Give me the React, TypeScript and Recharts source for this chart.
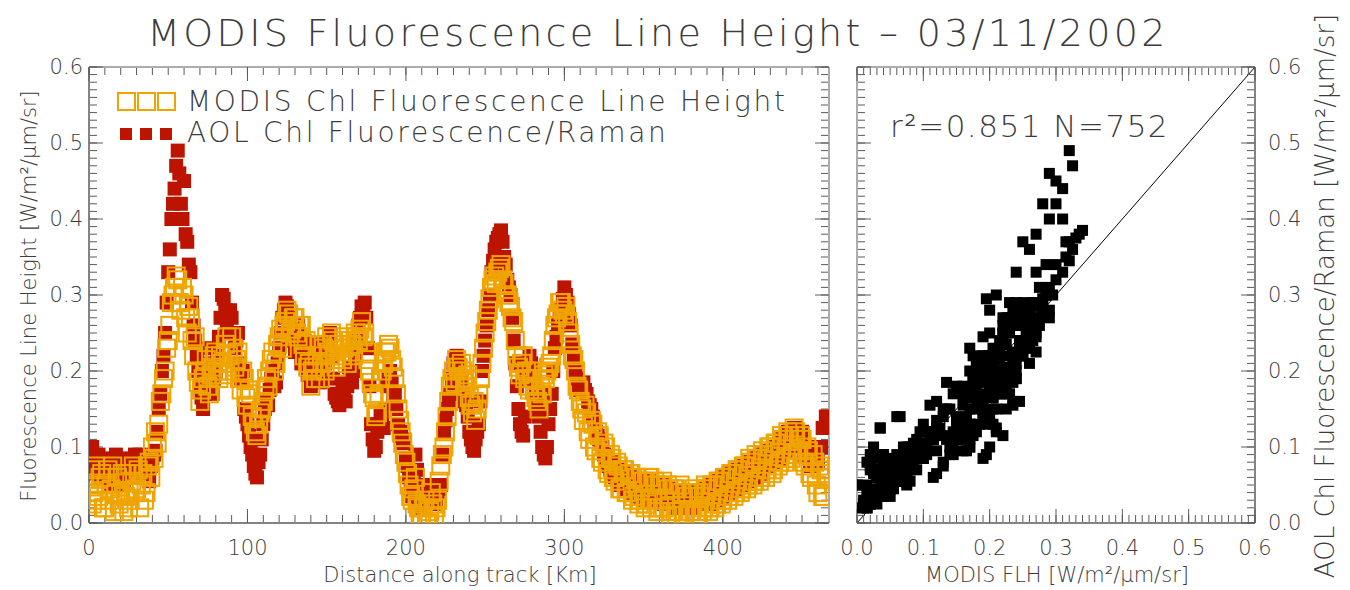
import React from 'react';
import { ScatterChart, Scatter, XAxis, YAxis, ReferenceLine, Legend } from 'recharts';

// ---------------- data ----------------
const distanceKm = [
  0, 1, 2, 3, 4, 5, 6, 7, 8, 9, 10, 11, 12, 13, 14, 15, 16, 17, 18, 19,
  20, 21, 22, 23, 24, 25, 26, 27, 28, 29, 30, 31, 32, 33, 34, 35, 36, 37, 38, 39,
  40, 41, 42, 43, 44, 45, 46, 47, 48, 49, 50, 51, 52, 53, 54, 55, 56, 57, 58, 59,
  60, 61, 62, 63, 64, 65, 66, 67, 68, 69, 70, 71, 72, 73, 74, 75, 76, 77, 78, 79,
  80, 81, 82, 83, 84, 85, 86, 87, 88, 89, 90, 91, 92, 93, 94, 95, 96, 97, 98, 99,
  100, 101, 102, 103, 104, 105, 106, 107, 108, 109, 110, 111, 112, 113, 114, 115, 116, 117, 118, 119,
  120, 121, 122, 123, 124, 125, 126, 127, 128, 129, 130, 131, 132, 133, 134, 135, 136, 137, 138, 139,
  140, 141, 142, 143, 144, 145, 146, 147, 148, 149, 150, 151, 152, 153, 154, 155, 156, 157, 158, 159,
  160, 161, 162, 163, 164, 165, 166, 167, 168, 169, 170, 171, 172, 173, 174, 175, 176, 177, 178, 179,
  180, 181, 182, 183, 184, 185, 186, 187, 188, 189, 190, 191, 192, 193, 194, 195, 196, 197, 198, 199,
  200, 201, 202, 203, 204, 205, 206, 207, 208, 209, 210, 211, 212, 213, 214, 215, 216, 217, 218, 219,
  220, 221, 222, 223, 224, 225, 226, 227, 228, 229, 230, 231, 232, 233, 234, 235, 236, 237, 238, 239,
  240, 241, 242, 243, 244, 245, 246, 247, 248, 249, 250, 251, 252, 253, 254, 255, 256, 257, 258, 259,
  260, 261, 262, 263, 264, 265, 266, 267, 268, 269, 270, 271, 272, 273, 274, 275, 276, 277, 278, 279,
  280, 281, 282, 283, 284, 285, 286, 287, 288, 289, 290, 291, 292, 293, 294, 295, 296, 297, 298, 299,
  300, 301, 302, 303, 304, 305, 306, 307, 308, 309, 310, 311, 312, 313, 314, 315, 316, 317, 318, 319,
  320, 321, 322, 323, 324, 325, 326, 327, 328, 329, 330, 331, 332, 333, 334, 335, 336, 337, 338, 339,
  340, 341, 342, 343, 344, 345, 346, 347, 348, 349, 350, 351, 352, 353, 354, 355, 356, 357, 358, 359,
  360, 361, 362, 363, 364, 365, 366, 367, 368, 369, 370, 371, 372, 373, 374, 375, 376, 377, 378, 379,
  380, 381, 382, 383, 384, 385, 386, 387, 388, 389, 390, 391, 392, 393, 394, 395, 396, 397, 398, 399,
  400, 401, 402, 403, 404, 405, 406, 407, 408, 409, 410, 411, 412, 413, 414, 415, 416, 417, 418, 419,
  420, 421, 422, 423, 424, 425, 426, 427, 428, 429, 430, 431, 432, 433, 434, 435, 436, 437, 438, 439,
  440, 441, 442, 443, 444, 445, 446, 447, 448, 449, 450, 451, 452, 453, 454, 455, 456, 457, 458, 459,
  460, 461, 462, 463, 464, 465, 466,
];

const modisFLH = [
  0.05, 0.07, 0.025, 0.04, 0.075, 0.03, 0.035, 0.06, 0.065, 0.02,
  0.02, 0.05, 0.07, 0.03, 0.045, 0.075, 0.015, 0.04, 0.06, 0.025,
  0.04, 0.065, 0.015, 0.035, 0.065, 0.02, 0.03, 0.055, 0.075, 0.04,
  0.045, 0.07, 0.02, 0.05, 0.065, 0.03, 0.04, 0.075, 0.08, 0.06,
  0.1, 0.085, 0.12, 0.105, 0.13, 0.16, 0.17, 0.19, 0.2, 0.23,
  0.24, 0.26, 0.29, 0.3, 0.31, 0.325, 0.32, 0.29, 0.28, 0.31,
  0.3, 0.27, 0.25, 0.285, 0.27, 0.24, 0.22, 0.245, 0.2, 0.185,
  0.16, 0.175, 0.19, 0.2, 0.215, 0.18, 0.17, 0.195, 0.205, 0.22,
  0.225, 0.2, 0.19, 0.22, 0.21, 0.195, 0.235, 0.245, 0.22, 0.2,
  0.245, 0.23, 0.205, 0.215, 0.225, 0.19, 0.175, 0.2, 0.19, 0.165,
  0.155, 0.175, 0.17, 0.14, 0.13, 0.12, 0.115, 0.13, 0.145, 0.15,
  0.16, 0.175, 0.19, 0.18, 0.2, 0.215, 0.225, 0.2, 0.21, 0.235,
  0.245, 0.255, 0.23, 0.26, 0.265, 0.28, 0.275, 0.25, 0.255, 0.27,
  0.27, 0.25, 0.245, 0.26, 0.26, 0.235, 0.22, 0.24, 0.205, 0.21,
  0.18, 0.2, 0.205, 0.19, 0.22, 0.235, 0.19, 0.21, 0.23, 0.2,
  0.245, 0.225, 0.22, 0.25, 0.24, 0.215, 0.205, 0.235, 0.235, 0.22,
  0.215, 0.23, 0.245, 0.21, 0.225, 0.24, 0.235, 0.22, 0.25, 0.245,
  0.24, 0.255, 0.265, 0.245, 0.25, 0.225, 0.215, 0.2, 0.185, 0.17,
  0.165, 0.14, 0.145, 0.17, 0.19, 0.2, 0.21, 0.225, 0.225, 0.235,
  0.23, 0.215, 0.205, 0.19, 0.17, 0.15, 0.135, 0.12, 0.105, 0.09,
  0.08, 0.065, 0.05, 0.035, 0.03, 0.045, 0.06, 0.025, 0.02, 0.01,
  0.005, 0.02, 0.03, 0.0, 0.0, 0.015, 0.04, 0.025, 0.01, 0.02,
  0.03, 0.055, 0.075, 0.09, 0.1, 0.12, 0.14, 0.16, 0.18, 0.19,
  0.2, 0.185, 0.215, 0.205, 0.19, 0.21, 0.2, 0.185, 0.18, 0.195,
  0.165, 0.155, 0.145, 0.16, 0.135, 0.15, 0.17, 0.19, 0.21, 0.23,
  0.25, 0.265, 0.28, 0.295, 0.31, 0.32, 0.325, 0.315, 0.33, 0.335,
  0.34, 0.32, 0.315, 0.3, 0.3, 0.29, 0.285, 0.27, 0.265, 0.24,
  0.22, 0.205, 0.195, 0.21, 0.22, 0.19, 0.2, 0.18, 0.175, 0.2,
  0.19, 0.175, 0.165, 0.16, 0.15, 0.18, 0.17, 0.195, 0.19, 0.2,
  0.205, 0.21, 0.22, 0.24, 0.26, 0.27, 0.275, 0.29, 0.29, 0.28,
  0.275, 0.285, 0.265, 0.25, 0.235, 0.22, 0.215, 0.2, 0.18, 0.175,
  0.16, 0.15, 0.135, 0.155, 0.145, 0.12, 0.11, 0.135, 0.13, 0.1,
  0.095, 0.12, 0.115, 0.085, 0.08, 0.105, 0.1, 0.07, 0.065, 0.09,
  0.085, 0.06, 0.055, 0.08, 0.075, 0.045, 0.045, 0.07, 0.07, 0.04,
  0.04, 0.065, 0.065, 0.03, 0.035, 0.06, 0.06, 0.025, 0.03, 0.055,
  0.055, 0.02, 0.025, 0.06, 0.06, 0.02, 0.03, 0.055, 0.05, 0.015,
  0.02, 0.05, 0.055, 0.02, 0.03, 0.05, 0.045, 0.01, 0.015, 0.045,
  0.045, 0.01, 0.015, 0.05, 0.04, 0.01, 0.01, 0.04, 0.035, 0.015,
  0.015, 0.04, 0.045, 0.01, 0.01, 0.04, 0.035, 0.015, 0.02, 0.05,
  0.045, 0.015, 0.02, 0.05, 0.05, 0.02, 0.025, 0.055, 0.055, 0.025,
  0.03, 0.06, 0.06, 0.03, 0.035, 0.065, 0.065, 0.035, 0.04, 0.07,
  0.07, 0.04, 0.045, 0.075, 0.075, 0.045, 0.05, 0.085, 0.08, 0.05,
  0.055, 0.09, 0.085, 0.055, 0.06, 0.095, 0.09, 0.06, 0.07, 0.1,
  0.1, 0.065, 0.07, 0.105, 0.105, 0.075, 0.08, 0.115, 0.11, 0.08,
  0.085, 0.12, 0.115, 0.085, 0.09, 0.125, 0.12, 0.09, 0.095, 0.115,
  0.11, 0.08, 0.075, 0.1, 0.095, 0.065, 0.06, 0.09, 0.08, 0.05,
  0.04, 0.075, 0.07, 0.035, 0.035, 0.065, 0.06,
];

const aolFluorRaman = [
  0.08, 0.09, 0.1, 0.07, 0.065, 0.085, 0.09, 0.06, 0.06, 0.075,
  0.07, 0.08, 0.085, 0.06, 0.05, 0.075, 0.08, 0.09, 0.06, 0.065,
  0.075, 0.06, 0.05, 0.07, 0.085, 0.08, 0.06, 0.07, 0.08, 0.09,
  0.065, 0.075, 0.09, 0.085, 0.06, 0.07, 0.08, 0.065, 0.055, 0.075,
  0.085, 0.09, 0.095, 0.12, 0.15, 0.17, 0.2, 0.22, 0.25, 0.29,
  0.33, 0.36, 0.4, 0.42, 0.44, 0.47, 0.49, 0.46, 0.42, 0.4,
  0.45, 0.38, 0.37, 0.34, 0.33, 0.29, 0.26, 0.24, 0.22, 0.2,
  0.18, 0.165, 0.15, 0.17, 0.2, 0.21, 0.23, 0.2, 0.17, 0.19,
  0.2, 0.22, 0.245, 0.27, 0.3, 0.295, 0.28, 0.26, 0.25, 0.28,
  0.27, 0.25, 0.23, 0.24, 0.25, 0.21, 0.19, 0.2, 0.15, 0.14,
  0.13, 0.115, 0.1, 0.09, 0.075, 0.065, 0.06, 0.08, 0.09, 0.11,
  0.13, 0.15, 0.16, 0.155, 0.175, 0.19, 0.2, 0.18, 0.185, 0.21,
  0.23, 0.25, 0.27, 0.28, 0.29, 0.285, 0.27, 0.26, 0.24, 0.25,
  0.225, 0.24, 0.26, 0.23, 0.21, 0.225, 0.24, 0.22, 0.195, 0.2,
  0.18, 0.195, 0.21, 0.22, 0.235, 0.2, 0.185, 0.19, 0.2, 0.21,
  0.22, 0.235, 0.25, 0.22, 0.19, 0.17, 0.165, 0.16, 0.155, 0.17,
  0.185, 0.17, 0.16, 0.18, 0.205, 0.19, 0.185, 0.2, 0.22, 0.24,
  0.26, 0.27, 0.285, 0.28, 0.29, 0.27, 0.23, 0.18, 0.13, 0.11,
  0.095, 0.1, 0.12, 0.13, 0.145, 0.14, 0.125, 0.15, 0.18, 0.19,
  0.2, 0.185, 0.165, 0.17, 0.15, 0.13, 0.115, 0.12, 0.105, 0.11,
  0.085, 0.075, 0.06, 0.045, 0.035, 0.06, 0.09, 0.07, 0.03, 0.025,
  0.02, 0.03, 0.045, 0.05, 0.05, 0.04, 0.035, 0.03, 0.025, 0.03,
  0.04, 0.045, 0.05, 0.09, 0.12, 0.135, 0.15, 0.16, 0.17, 0.19,
  0.21, 0.215, 0.22, 0.21, 0.2, 0.19, 0.17, 0.16, 0.155, 0.14,
  0.12, 0.11, 0.1, 0.095, 0.11, 0.12, 0.13, 0.16, 0.2, 0.22,
  0.24, 0.26, 0.28, 0.3, 0.33, 0.345, 0.36, 0.37, 0.375, 0.38,
  0.385, 0.37, 0.35, 0.34, 0.32, 0.31, 0.3, 0.27, 0.24, 0.21,
  0.18, 0.15, 0.13, 0.12, 0.115, 0.14, 0.19, 0.21, 0.22, 0.21,
  0.2, 0.19, 0.17, 0.155, 0.14, 0.12, 0.1, 0.09, 0.085, 0.1,
  0.13, 0.15, 0.17, 0.2, 0.23, 0.245, 0.26, 0.27, 0.28, 0.295,
  0.31, 0.3, 0.29, 0.275, 0.26, 0.235, 0.215, 0.2, 0.19, 0.18,
  0.175, 0.18, 0.185, 0.175, 0.17, 0.16, 0.155, 0.15, 0.14, 0.13,
  0.12, 0.115, 0.11, 0.105, 0.1, 0.09, 0.085, 0.08, 0.075, 0.07,
  0.08, 0.065, 0.06, 0.07, 0.07, 0.05, 0.05, 0.065, 0.065, 0.045,
  0.045, 0.06, 0.06, 0.04, 0.04, 0.055, 0.055, 0.035, 0.035, 0.05,
  0.05, 0.03, 0.03, 0.055, 0.055, 0.035, 0.035, 0.05, 0.05, 0.03,
  0.03, 0.05, 0.05, 0.025, 0.025, 0.045, 0.045, 0.03, 0.03, 0.04,
  0.04, 0.02, 0.02, 0.035, 0.035, 0.025, 0.025, 0.04, 0.04, 0.02,
  0.02, 0.04, 0.04, 0.025, 0.025, 0.035, 0.035, 0.03, 0.03, 0.045,
  0.045, 0.025, 0.025, 0.05, 0.05, 0.03, 0.03, 0.055, 0.055, 0.035,
  0.035, 0.06, 0.06, 0.04, 0.04, 0.065, 0.065, 0.045, 0.045, 0.07,
  0.07, 0.05, 0.05, 0.075, 0.075, 0.055, 0.055, 0.08, 0.08, 0.06,
  0.06, 0.085, 0.085, 0.065, 0.065, 0.09, 0.09, 0.075, 0.075, 0.095,
  0.095, 0.08, 0.08, 0.1, 0.1, 0.085, 0.085, 0.11, 0.11, 0.095,
  0.095, 0.12, 0.12, 0.1, 0.1, 0.125, 0.125, 0.105, 0.105, 0.115,
  0.12, 0.09, 0.09, 0.1, 0.1, 0.075, 0.075, 0.085, 0.085, 0.08,
  0.08, 0.1, 0.1, 0.125, 0.125, 0.14, 0.14,
];

const seriesNames = ['MODIS Chl Fluorescence Line Height', 'AOL Chl Fluorescence/Raman'];
const distanceTicks = [0, 100, 200, 300, 400];
const flhTicks = [0, 0.1, 0.2, 0.3, 0.4, 0.5, 0.6];
const oneToOne = [0, 0.6];
const fitStats = { r2: '0.851', n: 752 };
const chartTitle = 'MODIS Fluorescence Line Height \u2013 03/11/2002';
const unitText = '[W/m\u00B2/\u03BCm/sr]';
const xTitleLeft = 'Distance along track [Km]';
const xTitleRight = `MODIS FLH ${unitText}`;
const yTitleLeft = `Fluorescence Line Height ${unitText}`;
const yTitleRight = `AOL Chl Fluorescence/Raman ${unitText}`;

// ---------------- styling ----------------
const FONT = '"DejaVu Sans", Verdana, sans-serif';
const TXT = '#3c3c3c';
const AXIS = '#5a5a5a';
const ORANGE = '#EFA400';
const RED = '#BD1400';
const FW = 200;

const distDomain: [number, number] = [0, 467];
const flhDomain: [number, number] = [0, 0.6];

const minorTicks = (lo: number, hi: number, step: number) => {
  const out: number[] = [];
  const n = Math.round((hi - lo) / step);
  for (let i = 0; i <= n; i++) out.push(+(lo + i * step).toFixed(4));
  return out;
};

const modisPts = distanceKm.map((d, i) => ({ d, v: modisFLH[i] }));
const aolPts = distanceKm.map((d, i) => ({ d, v: aolFluorRaman[i] }));
const pairPts = distanceKm.map((_, i) => ({ m: modisFLH[i], a: aolFluorRaman[i] }));

const orangeSquare = (p: any) => (
  <rect x={p.cx - 8.5} y={p.cy - 8.5} width={17} height={17} fill="none" stroke={ORANGE} strokeWidth={2} />
);
const redSquare = (p: any) => (
  <rect x={p.cx - 7} y={p.cy - 7} width={14} height={14} fill={RED} />
);
const blackSquare = (p: any) => (
  <rect x={p.cx - 5.5} y={p.cy - 5.5} width={11} height={11} fill="#000" />
);

const tickStyle = { fill: TXT, fontSize: 21, fontFamily: FONT, fontWeight: FW };
const f1 = (v: number) => v.toFixed(1);
const noLabel = () => <g />;

// inward IDL-style tick marks on all four sides (mirror axes take no layout space)
const frameAxes = (
  xKey: string, xDom: [number, number], xMaj: number[], xMin: number[],
  yKey: string, yDom: [number, number], yMaj: number[], yMin: number[],
) => {
  const common = { type: 'number' as const, tick: noLabel, interval: 0 as const, allowDataOverflow: true, mirror: true };
  const tl = { stroke: AXIS, strokeWidth: 1 };
  return [
    <XAxis key="bM" xAxisId="bM" dataKey={xKey} orientation="bottom" height={1} domain={xDom} ticks={xMaj} tickSize={14} tickLine={tl} axisLine={{ stroke: AXIS }} {...common} />,
    <XAxis key="bm" xAxisId="bm" dataKey={xKey} orientation="bottom" height={1} domain={xDom} ticks={xMin} tickSize={7} tickLine={tl} axisLine={false} {...common} />,
    <XAxis key="tM" xAxisId="tM" dataKey={xKey} orientation="top" height={1} domain={xDom} ticks={xMaj} tickSize={14} tickLine={tl} axisLine={{ stroke: AXIS }} {...common} />,
    <XAxis key="tm" xAxisId="tm" dataKey={xKey} orientation="top" height={1} domain={xDom} ticks={xMin} tickSize={7} tickLine={tl} axisLine={false} {...common} />,
    <YAxis key="lM" yAxisId="lM" dataKey={yKey} orientation="left" width={1} domain={yDom} ticks={yMaj} tickSize={14} tickLine={tl} axisLine={{ stroke: AXIS }} {...common} />,
    <YAxis key="lm" yAxisId="lm" dataKey={yKey} orientation="left" width={1} domain={yDom} ticks={yMin} tickSize={7} tickLine={tl} axisLine={false} {...common} />,
    <YAxis key="rM" yAxisId="rM" dataKey={yKey} orientation="right" width={1} domain={yDom} ticks={yMaj} tickSize={14} tickLine={tl} axisLine={{ stroke: AXIS }} {...common} />,
    <YAxis key="rm" yAxisId="rm" dataKey={yKey} orientation="right" width={1} domain={yDom} ticks={yMin} tickSize={7} tickLine={tl} axisLine={false} {...common} />,
  ];
};

const LegendContent = () => (
  <svg width={720} height={72} style={{ overflow: 'visible', display: 'block' }}>
    {[0, 1, 2].map((i) => (
      <rect key={'o' + i} x={8 + i * 20} y={13} width={17} height={17} fill="none" stroke={ORANGE} strokeWidth={2} />
    ))}
    <text x={77} y={31} fontFamily={FONT} fontWeight={FW} fontSize={28} letterSpacing={2.7} fill={TXT}>{seriesNames[0]}</text>
    {[0, 1, 2].map((i) => (
      <rect key={'r' + i} x={10 + i * 20} y={48} width={12} height={12} fill={RED} />
    ))}
    <text x={77} y={62} fontFamily={FONT} fontWeight={FW} fontSize={28} letterSpacing={2.7} fill={TXT}>{seriesNames[1]}</text>
  </svg>
);

export default function App() {
  return (
    <div style={{ position: 'absolute', left: 0, top: 0, width: 1350, height: 590, background: '#fff', overflow: 'hidden' }}>
      {/* Left: along-track series */}
      <div style={{ position: 'absolute', left: 0, top: 0 }}>
        <ScatterChart width={840} height={590} data={modisPts} margin={{ top: 67, right: 11, bottom: 0, left: 0 }}>
          <XAxis xAxisId="x" type="number" dataKey="d" domain={distDomain} ticks={distanceTicks} interval={0}
            height={67} tickLine={false} tickSize={0} tickMargin={17} axisLine={{ stroke: AXIS }} tick={tickStyle} allowDataOverflow />
          <YAxis yAxisId="y" type="number" dataKey="v" domain={flhDomain} ticks={flhTicks} interval={0}
            width={89} tickLine={false} tickSize={0} tickMargin={6} axisLine={{ stroke: AXIS }} tick={tickStyle}
            tickFormatter={f1} allowDataOverflow />
          {frameAxes('d', distDomain, distanceTicks, minorTicks(0, 460, 10), 'v', flhDomain, flhTicks, minorTicks(0, 0.6, 0.01))}
          <Scatter name={seriesNames[1]} xAxisId="x" yAxisId="y" data={aolPts} shape={redSquare} isAnimationActive={false} />
          <Scatter name={seriesNames[0]} xAxisId="x" yAxisId="y" data={modisPts} shape={orangeSquare} isAnimationActive={false} />
          <Legend layout="horizontal" verticalAlign="middle" align="center"
            wrapperStyle={{ left: 110, top: 80, width: 720, height: 72 }} content={<LegendContent />} />
        </ScatterChart>
      </div>

      {/* Right: MODIS vs AOL scatter */}
      <div style={{ position: 'absolute', left: 840, top: 0 }}>
        <ScatterChart width={510} height={590} data={pairPts} margin={{ top: 67, right: 0, bottom: 0, left: 17 }}>
          <XAxis xAxisId="x" type="number" dataKey="m" domain={flhDomain} ticks={flhTicks} interval={0}
            height={67} tickLine={false} tickSize={0} tickMargin={17} axisLine={{ stroke: AXIS }} tick={tickStyle}
            tickFormatter={f1} allowDataOverflow />
          <YAxis yAxisId="y" orientation="right" type="number" dataKey="a" domain={flhDomain} ticks={flhTicks} interval={0}
            width={95} tickLine={false} tickSize={0} tickMargin={13} axisLine={{ stroke: AXIS }} tick={tickStyle}
            tickFormatter={f1} allowDataOverflow />
          {frameAxes('m', flhDomain, flhTicks, minorTicks(0, 0.6, 0.01), 'a', flhDomain, flhTicks, minorTicks(0, 0.6, 0.01))}
          <ReferenceLine xAxisId="x" yAxisId="y"
            segment={[{ x: oneToOne[0], y: oneToOne[0] }, { x: oneToOne[1], y: oneToOne[1] }]}
            stroke="#000" strokeWidth={1} />
          <Scatter name="MODIS vs AOL" xAxisId="x" yAxisId="y" data={pairPts} shape={blackSquare} isAnimationActive={false} />
        </ScatterChart>
      </div>

      {/* Titles and annotations */}
      <svg width={1350} height={590} style={{ position: 'absolute', left: 0, top: 0, pointerEvents: 'none' }}>
        <text x={658} y={46} textAnchor="middle" fontFamily={FONT} fontWeight={FW} fontSize={38} letterSpacing={3.3} fill={TXT}>{chartTitle}</text>
        <text x={890} y={137} fontFamily={FONT} fontWeight={FW} fontSize={31} letterSpacing={1.5} fill={TXT}>
          {`r\u00B2=${fitStats.r2} N=${fitStats.n}`}
        </text>
        <text x={460} y={582} textAnchor="middle" fontFamily={FONT} fontWeight={FW} fontSize={21} fill={TXT}>{xTitleLeft}</text>
        <text x={1057} y={582} textAnchor="middle" fontFamily={FONT} fontWeight={FW} fontSize={21} fill={TXT}>{xTitleRight}</text>
        <text x={0} y={0} transform="translate(36,296) rotate(-90)" textAnchor="middle" fontFamily={FONT} fontWeight={FW} fontSize={21} fill={TXT}>
          {yTitleLeft}
        </text>
        <text x={0} y={0} transform="translate(1334,296) rotate(-90)" textAnchor="middle" fontFamily={FONT} fontWeight={FW} fontSize={26} fill={TXT}>
          {yTitleRight}
        </text>
      </svg>
    </div>
  );
}
